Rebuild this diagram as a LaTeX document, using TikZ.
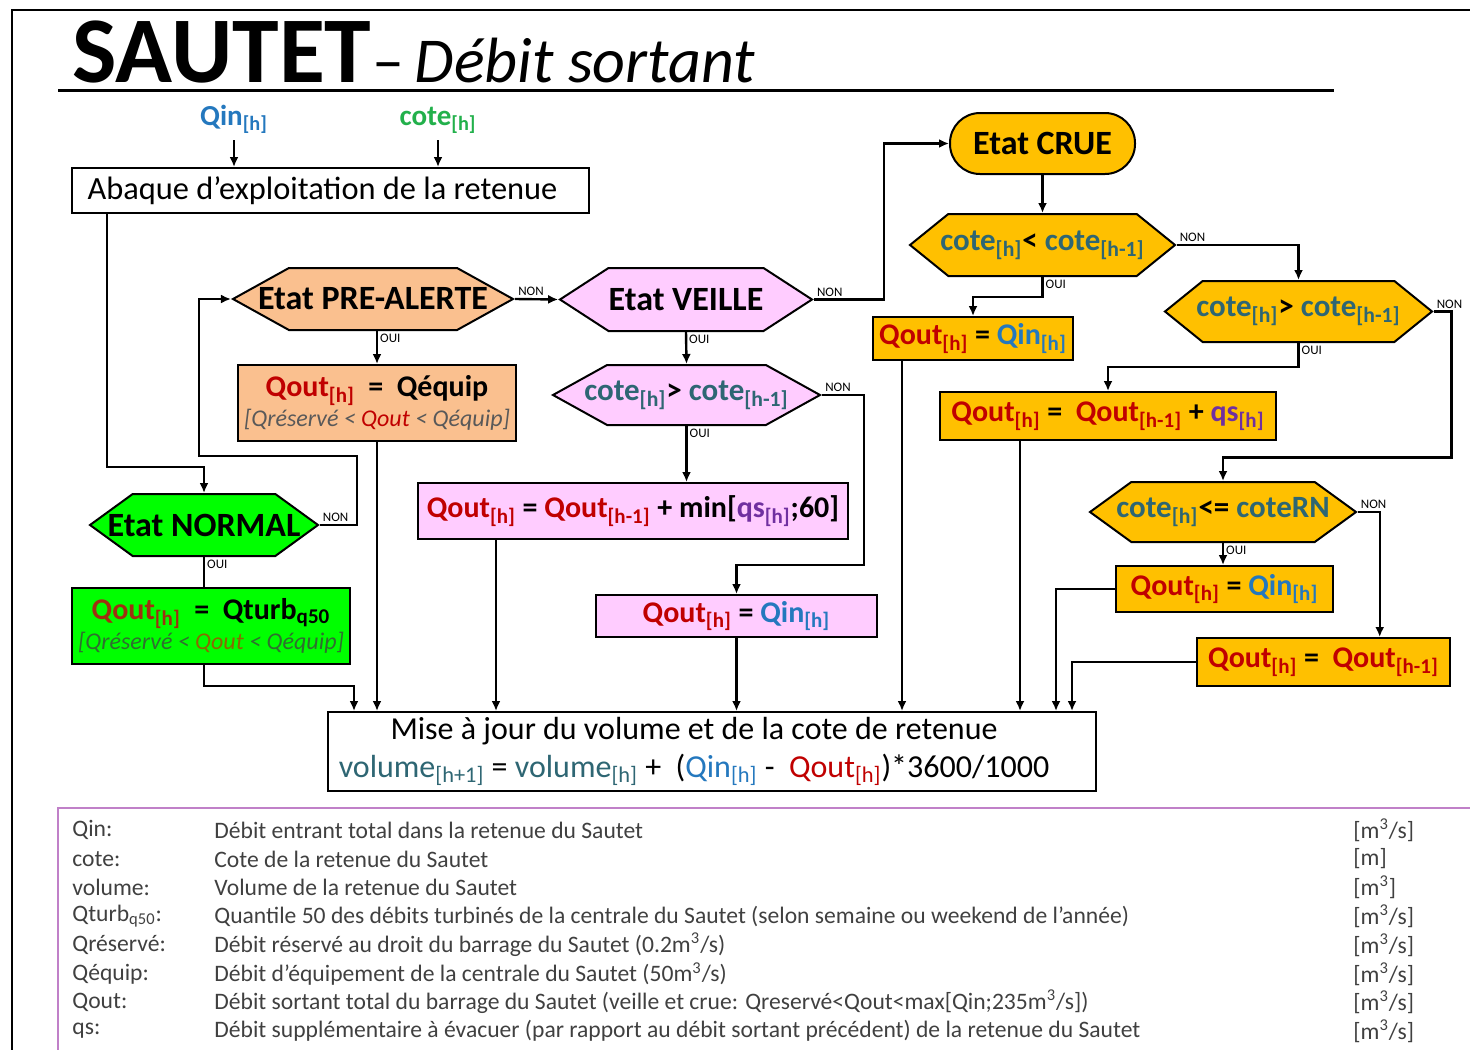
\documentclass[tikz,border=0pt]{standalone}
\usepackage{fontspec}
\setmainfont{Carlito}
\usepackage{xcolor}
\usetikzlibrary{shapes.symbols,arrows.meta,calc}

\definecolor{qred}{HTML}{C00000}
\definecolor{qblue}{HTML}{2478BE}
\definecolor{cgreen}{HTML}{22B04B}
\definecolor{cteal}{HTML}{2E6673}
\definecolor{qviolet}{HTML}{7030A0}
\definecolor{peche}{HTML}{FAC08F}
\definecolor{rose}{HTML}{FFCCFF}
\definecolor{jaune}{HTML}{FFC000}
\definecolor{vert}{HTML}{00FF00}
\definecolor{gris}{HTML}{404040}
\definecolor{cadre}{HTML}{C080C8}

\newcommand{\qout}[1]{\textcolor{qred}{Qout\textsubscript{[#1]}}}
\newcommand{\qin}[1]{\textcolor{qblue}{Qin\textsubscript{[#1]}}}
\newcommand{\cote}[1]{\textcolor{cteal}{cote\textsubscript{[#1]}}}
\newcommand{\qs}[1]{\textcolor{qviolet}{qs\textsubscript{[#1]}}}
\newcommand{\vol}[1]{\textcolor{cteal}{volume\textsubscript{[#1]}}}
\newcommand{\hx}[1]{\makebox[0pt]{#1}}

\tikzset{
  boite/.style={draw, line width=1pt, rectangle, inner sep=1pt, align=center,
    font=\fontsize{15}{16}\selectfont\bfseries},
  hexa/.style={draw, line width=1pt, shape=signal, signal to=west and east,
    inner sep=1pt, font=\fontsize{15.5}{16}\selectfont\bfseries},
  etat/.style={font=\fontsize{17}{18}\selectfont\bfseries},
  fleche/.style={-{Latex[length=5pt,width=4.5pt]}, line width=1.2pt},
  trait/.style={line width=1.2pt},
  reponse/.style={font=\fontsize{6.5}{7}\selectfont, inner sep=1pt},
  legende/.style={anchor=west, text=gris, inner sep=0pt, font=\fontsize{11.8}{12}\selectfont},
}

\begin{document}
\begin{tikzpicture}[x=0.5pt,y=-0.5pt]
\useasboundingbox (0,0) rectangle (1470,1049);

% cadres
\begin{scope}
  \clip (0,0) rectangle (1470,1049);
  \draw[line width=1pt] (12,1060) -- (12,10) -- (1480,10);
  \draw[line width=1pt, cadre] (1480,808) -- (58,808) -- (58,1060);
\end{scope}

% titre
\node[anchor=base west, inner sep=0pt] (titre) at (72,82) {\fontsize{47}{47}\selectfont\bfseries SAUTET};
\node[anchor=base west, inner sep=0pt] (soustitre) at (titre.base east) {\fontsize{32}{32}\selectfont –\,\itshape Débit sortant};
\draw[line width=1.5pt] (58,90) -- (1334,90);

% entrees
\node[font=\fontsize{14.5}{15}\selectfont\bfseries] (qinlbl) at (234,119) {\qin{h}};
\node[font=\fontsize{14.5}{15}\selectfont\bfseries] (cotelbl) at (438,120) {\textcolor{cgreen}{cote\textsubscript{[h]}}};
\node[boite, minimum width=258.5pt, minimum height=22.5pt, font=\fontsize{16.2}{17}\selectfont] (abaque) at (330.5,190.5) {Abaque d’exploitation de la retenue\hspace*{8pt}};

% etats normal / pre-alerte
\node[hexa, etat, fill=vert, minimum width=114pt, minimum height=31pt, signal pointer angle=72] (normal) at (204,525) {\hx{Etat NORMAL}};
\node[boite, fill=vert, minimum width=139pt, minimum height=38pt] (qturb) at (211,626)
  {\textcolor[HTML]{A03010}{Qout\textsubscript{[h]}} \ = \ Qturb\textsubscript{q50}\\[-1pt]
   {\fontsize{12}{13}\selectfont\mdseries\itshape\color[HTML]{2F6F2F}[Qréservé < \textcolor[HTML]{8A6A00}{Qout} < Qéquip]}};
\node[hexa, etat, fill=peche, minimum width=140pt, minimum height=31pt, signal pointer angle=58] (prealerte) at (373,299) {\hx{Etat PRE-ALERTE}};
\node[boite, fill=peche, minimum width=139pt, minimum height=38pt] (qequip) at (377,403)
  {\qout{h} \ = \ Qéquip\\[-1pt]
   {\fontsize{12}{13}\selectfont\mdseries\itshape\color[HTML]{595959}[Qréservé < \textcolor{qred}{Qout} < Qéquip]}};

% etat veille
\node[hexa, etat, fill=rose, minimum width=126pt, minimum height=31.5pt, signal pointer angle=66] (veille) at (686,299.5) {\hx{Etat VEILLE}};
\node[hexa, fill=rose, minimum width=133.5pt, minimum height=30pt, signal pointer angle=58] (vcote) at (686.5,395) {\hx{\cote{h}> \cote{h-1}}};
\node[boite, fill=rose, minimum width=215pt, minimum height=28pt] (vmin) at (633,511) {\qout{h} = \qout{h-1} + min[\qs{h};60]};
\node[boite, fill=rose, minimum width=140.5pt, minimum height=21pt] (vqin) at (736.5,616) {\qout{h} = \qin{h}};

% etat crue
\node[draw, line width=1pt, etat, fill=jaune, rounded corners=15pt, minimum width=92.5pt, minimum height=30.5pt] (crue) at (1042.5,143.5) {Etat CRUE};
\node[hexa, fill=jaune, minimum width=132.5pt, minimum height=31pt, signal pointer angle=78] (ccote1) at (1042.5,245) {\hx{\cote{h}< \cote{h-1}}};
\node[boite, fill=jaune, minimum width=100pt, minimum height=21.5pt] (cqin) at (973,338.5) {\qout{h} = \qin{h}};
\node[hexa, fill=jaune, minimum width=133.5pt, minimum height=30.5pt, signal pointer angle=78] (ccote2) at (1298.5,311.5) {\hx{\cote{h}> \cote{h-1}}};
\node[boite, fill=jaune, minimum width=168pt, minimum height=24pt] (cqs) at (1108,416) {\qout{h} = \ \qout{h-1} + \qs{h}};
\node[hexa, fill=jaune, minimum width=133pt, minimum height=30pt, signal pointer angle=72] (crn) at (1223,512) {\hx{\cote{h}<= \textcolor{cteal}{coteRN}}};
\node[boite, fill=jaune, minimum width=108.5pt, minimum height=23pt] (cqin2) at (1224.5,589) {\qout{h} = \qin{h}};
\node[boite, fill=jaune, minimum width=126.5pt, minimum height=24pt] (cqprev) at (1323.5,662) {\qout{h} = \ \qout{h-1}};

% mise a jour
\node[boite, fill=white, minimum width=384pt, minimum height=39.5pt, font=\fontsize{16}{19}\selectfont] (maj) at (712,751.5)
  {Mise à jour du volume et de la cote de retenue\hspace*{18pt}\\
   \vol{h+1} = \vol{h} + \ (\qin{h} - \ \qout{h})*3600/1000\hspace*{18pt}};

% connecteurs
\draw[fleche] (qinlbl.south) -- (qinlbl.south |- abaque.north);
\draw[fleche] (cotelbl.south) -- (cotelbl.south |- abaque.north);
\draw[fleche] ([xshift=18pt]abaque.south west) |- ([yshift=13pt]normal.north) -- (normal.north);

\draw[fleche] (normal.east) -- node[pos=0, reponse, anchor=south west] (nonA) {NON} ++(37,0) -- ++(0,-69) -- ++(-158,0) |- (prealerte.west);
\draw[trait] (normal.south) -- node[pos=0, reponse, anchor=north west] (ouiA) {OUI} (normal.south |- qturb.north);
\draw[fleche] (normal.south |- qturb.south) -- ++(0,21) -| ([xshift=13.5pt]maj.north west);

\draw[fleche] (prealerte.east) -- node[pos=0, reponse, anchor=south west] (nonB) {NON} (veille.west);
\draw[fleche] (prealerte.south -| qequip.north) -- node[pos=0, reponse, anchor=north west] (ouiB) {OUI} (qequip.north);
\draw[fleche] (qequip.south) -- (qequip.south |- maj.north);

\draw[fleche] (veille.east) -- node[pos=0, reponse, anchor=south west] (nonC) {NON} ++(70,0) |- (crue.west);
\draw[fleche] (veille.south) -- node[pos=0, reponse, anchor=north west] (ouiC) {OUI} (vcote.north);
\draw[fleche] (vcote.east) -- node[pos=0, reponse, anchor=south west] (nonD) {NON} ++(42,0) -- ++(0,170) -| (vqin.north);
\draw[fleche] (vcote.south) -- node[pos=0, reponse, anchor=north west] (ouiD) {OUI} (vcote.south |- vmin.north);
\coordinate (vminbas) at ([xshift=39.5pt]vmin.south west);
\draw[fleche] (vminbas) -- (vminbas |- maj.north);
\draw[fleche] (vqin.south) -- (vqin.south |- maj.north);

\draw[fleche] (crue.south) -- (ccote1.north);
\draw[fleche] (ccote1.east) -- node[pos=0, reponse, anchor=south west] (nonE) {NON} (ccote1.east -| ccote2.north) -- (ccote2.north);
\draw[fleche] (ccote1.south) -- node[pos=0, reponse, anchor=north west] (ouiE) {OUI} ++(0,20) -| (cqin.north);
\coordinate (cqinbas) at ([xshift=15pt]cqin.south west);
\draw[fleche] (cqinbas) -- (cqinbas |- maj.north);
\draw[fleche] (ccote2.east) -- node[pos=0, reponse, anchor=south west] (nonF) {NON} ++(18,0) -- ++(0,146) -| (crn.north);
\draw[fleche] (ccote2.south) -- node[pos=0, reponse, anchor=north west] (ouiF) {OUI} ++(0,24) -| (cqs.north);
\coordinate (cqsbas) at ([xshift=40.5pt]cqs.south west);
\draw[fleche] (cqsbas) -- (cqsbas |- maj.north);
\draw[fleche] (crn.east) -- node[pos=0, reponse, anchor=south west] (nonG) {NON} ++(22,0) coordinate (crnnon) -- (crnnon |- cqprev.north);
\draw[fleche] (crn.south) -- node[pos=0, reponse, anchor=north west] (ouiG) {OUI} (crn.south |- cqin2.north);
\draw[fleche] (cqin2.west) -| ([xshift=-20.5pt]maj.north east);
\draw[fleche] (cqprev.west) -| ([xshift=-12.5pt]maj.north east);

% legende
\node[legende] (l1a) at (72,830) {Qin:};
\node[legende] (l1b) at (214,830) {Débit entrant total dans la retenue du Sautet};
\node[legende] (l1c) at (1353,830) {[m\textsuperscript{3}/s]};
\node[legende] (l2a) at (72,859) {cote:};
\node[legende] (l2b) at (214,859) {Cote de la retenue du Sautet};
\node[legende] (l2c) at (1353,859) {[m]};
\node[legende] (l3a) at (72,887) {volume:};
\node[legende] (l3b) at (214,887) {Volume de la retenue du Sautet};
\node[legende] (l3c) at (1353,887) {[m\textsuperscript{3}]};
\node[legende] (l4a) at (72,916) {Qturb\textsubscript{q50}:};
\node[legende] (l4b) at (214,916) {Quantile 50 des débits turbinés de la centrale du Sautet (selon semaine ou weekend de l’année)};
\node[legende] (l4c) at (1353,916) {[m\textsuperscript{3}/s]};
\node[legende] (l5a) at (72,945) {Qréservé:};
\node[legende] (l5b) at (214,945) {Débit réservé au droit du barrage du Sautet (0.2m\textsuperscript{3}/s)};
\node[legende] (l5c) at (1353,945) {[m\textsuperscript{3}/s]};
\node[legende] (l6a) at (72,974) {Qéquip:};
\node[legende] (l6b) at (214,974) {Débit d’équipement de la centrale du Sautet (50m\textsuperscript{3}/s)};
\node[legende] (l6c) at (1353,974) {[m\textsuperscript{3}/s]};
\node[legende] (l7a) at (72,1002) {Qout:};
\node[legende] (l7b) at (214,1002) {Débit sortant total du barrage du Sautet (veille et crue: Qreservé<Qout<max[Qin;235m\textsuperscript{3}/s])};
\node[legende] (l7c) at (1353,1002) {[m\textsuperscript{3}/s]};
\node[legende] (l8a) at (72,1031) {qs:};
\node[legende] (l8b) at (214,1031) {Débit supplémentaire à évacuer (par rapport au débit sortant précédent) de la retenue du Sautet};
\node[legende] (l8c) at (1353,1031) {[m\textsuperscript{3}/s]};
\end{tikzpicture}
\end{document}
